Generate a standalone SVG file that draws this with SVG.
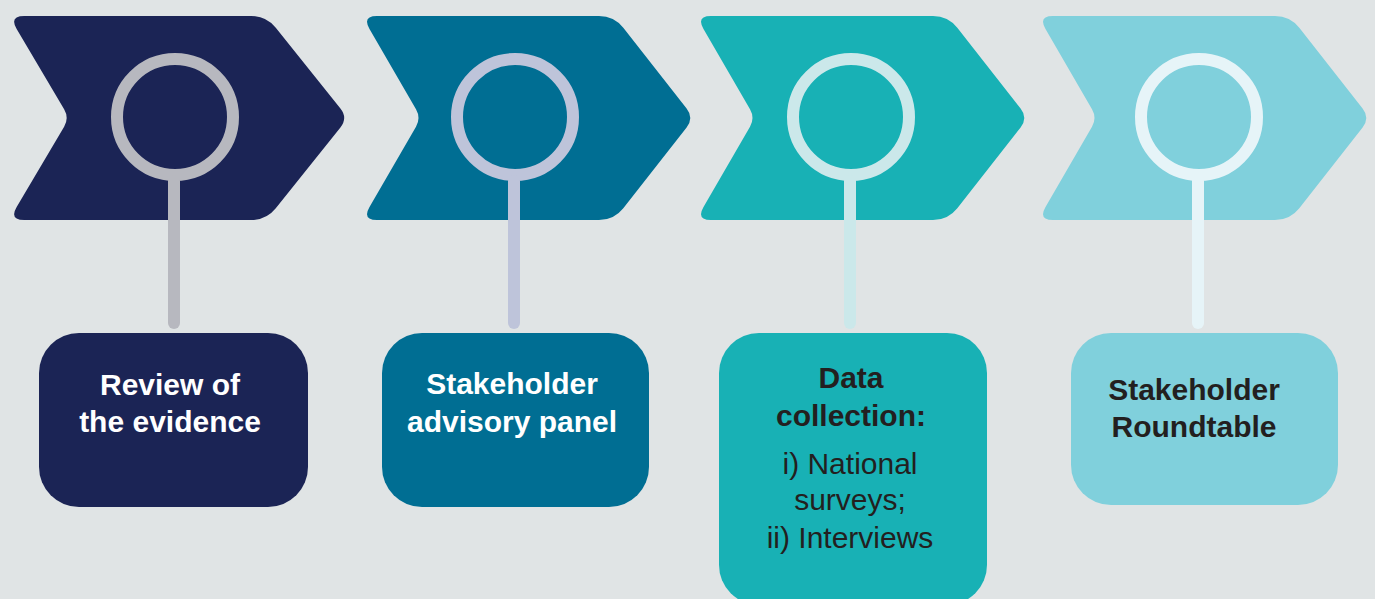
<svg xmlns="http://www.w3.org/2000/svg" width="1375" height="599" viewBox="0 0 1375 599">
  <style>
    .ring { fill: none; stroke-width: 12; }
    .stem { fill: none; stroke-width: 12; stroke-linecap: round; }
    .box-title { font-family: "Liberation Sans", Arial, Helvetica, sans-serif; font-size: 30px; font-weight: bold; text-anchor: middle; }
    .box-body { font-family: "Liberation Sans", Arial, Helvetica, sans-serif; font-size: 30px; text-anchor: middle; }
    .light { fill: #ffffff; }
    .dark { fill: #231f20; }
  </style>
  <defs>
    <!-- chevron arrow with softened corners, left edge at x=0 -->
    <path id="chevron" d="M15,16 L237,16 Q252,16 261.3,27.8 L324.6,108.6 Q332,118 324.6,127.4 L261.3,208.2 Q252,220 237,220 L15,220 Q0,220 7.5,207 L54,126.7 Q59,118 54,109.3 L7.5,29 Q0,16 15,16 Z"/>
  </defs>

  <rect width="1375" height="599" fill="#e0e4e5"/>

  <!-- process stages -->
  <g id="stage-1">
    <use href="#chevron" transform="translate(9,0) scale(1.021,1)" fill="#1b2455"/>
    <circle class="ring" cx="175" cy="117" r="58" stroke="#b7b8bf"/>
  </g>
  <g id="stage-2">
    <use href="#chevron" transform="translate(362,0)" fill="#006e93"/>
    <circle class="ring" cx="515" cy="117" r="58" stroke="#bec4da"/>
  </g>
  <g id="stage-3">
    <use href="#chevron" transform="translate(696,0)" fill="#18b1b5"/>
    <circle class="ring" cx="851" cy="117" r="58" stroke="#cbe8ea"/>
  </g>
  <g id="stage-4">
    <use href="#chevron" transform="translate(1038,0)" fill="#80d0dc"/>
    <circle class="ring" cx="1199" cy="117" r="58" stroke="#e6f4f8"/>
  </g>

  <!-- stems linking each ring to its card -->
  <g id="connectors">
    <line class="stem" x1="174" y1="181" x2="174" y2="323" stroke="#b7b8bf"/>
    <line class="stem" x1="514" y1="181" x2="514" y2="323" stroke="#bec4da"/>
    <line class="stem" x1="850" y1="181" x2="850" y2="323" stroke="#cbe8ea"/>
    <line class="stem" x1="1198" y1="181" x2="1198" y2="323" stroke="#e6f4f8"/>
  </g>

  <!-- description cards -->
  <g id="card-1">
    <rect x="39" y="333" width="269" height="174" rx="40" fill="#1b2455"/>
    <text class="box-title light" x="170" y="395">Review of</text>
    <text class="box-title light" x="170" y="432">the evidence</text>
  </g>
  <g id="card-2">
    <rect x="382" y="333" width="267" height="174" rx="40" fill="#006e93"/>
    <text class="box-title light" x="512" y="394">Stakeholder</text>
    <text class="box-title light" x="512" y="432">advisory panel</text>
  </g>
  <g id="card-3">
    <rect x="719" y="333" width="268" height="272" rx="40" fill="#18b1b5"/>
    <text class="box-title dark" x="851" y="388">Data</text>
    <text class="box-title dark" x="851" y="426">collection:</text>
    <text class="box-body dark" x="850" y="474">i) National</text>
    <text class="box-body dark" x="850" y="510">surveys;</text>
    <text class="box-body dark" x="850" y="548">ii) Interviews</text>
  </g>
  <g id="card-4">
    <rect x="1071" y="333" width="267" height="172" rx="40" fill="#80d0dc"/>
    <text class="box-title dark" x="1194" y="400">Stakeholder</text>
    <text class="box-title dark" x="1194" y="437">Roundtable</text>
  </g>
</svg>
